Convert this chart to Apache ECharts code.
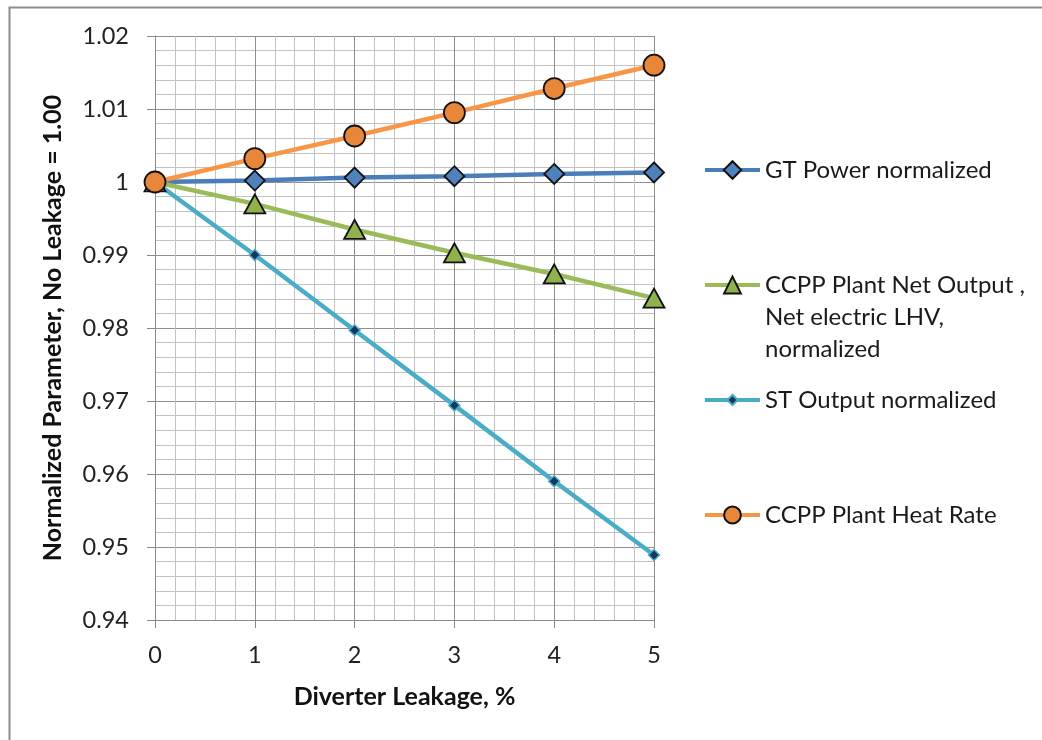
<!DOCTYPE html>
<html>
<head>
<meta charset="utf-8">
<title>Diverter Leakage Effects</title>
<script src="https://cdn.jsdelivr.net/npm/echarts@6/dist/echarts.min.js"></script>
<style>
  html, body { margin: 0; padding: 0; background: #ffffff; }
  #chart { width: 1042px; height: 740px; }
</style>
</head>
<body>
<div id="chart"></div>
<script>
// Diverter leakage, %
const leakage = [0, 1, 2, 3, 4, 5];

// Normalized parameters (no leakage = 1.00)
const gtPower = [1.0000, 1.0002, 1.0006, 1.0008, 1.0011, 1.0013];
const plantNetOutput = [1.0000, 0.9970, 0.9935, 0.9903, 0.9874, 0.9841];
const stOutput = [1.0000, 0.9900, 0.9797, 0.9694, 0.9590, 0.9489];
const plantHeatRate = [1.0000, 1.0032, 1.0063, 1.0095, 1.0128, 1.0160];

const seriesNames = [
  'GT Power normalized',
  'CCPP Plant Net Output , Net electric LHV, normalized',
  'ST Output normalized',
  'CCPP Plant Heat Rate'
];

const FONT = 'Lato, "Liberation Sans", sans-serif';

const pairs = vals => leakage.map((x, i) => [x, vals[i]]);

const chart = echarts.init(document.getElementById('chart'), null, { renderer: 'canvas' });

const LEGEND_LH = 32;
const legendText = { fontFamily: FONT, fontSize: 24, color: '#1a1a1a', lineHeight: LEGEND_LH };

const option = {
  backgroundColor: '#ffffff',
  animation: false,
  graphic: [{
    type: 'rect',
    left: 7, top: 5,
    shape: { width: 1200, height: 900 },
    style: { fill: 'none', stroke: '#8c8c8c', lineWidth: 2 },
    silent: true
  }],
  grid: { left: 155, top: 36, width: 499, height: 584, containLabel: false },
  xAxis: {
    type: 'value',
    min: 0, max: 5, interval: 1,
    name: 'Diverter Leakage, %',
    nameLocation: 'middle',
    nameGap: 64,
    nameTextStyle: { fontFamily: FONT, fontSize: 25, fontWeight: 'bold', color: '#111' },
    axisLine: { show: true, onZero: false, lineStyle: { color: '#8a8a8a', width: 1 } },
    axisTick: { show: true, length: 8, lineStyle: { color: '#8a8a8a' } },
    axisLabel: { fontFamily: FONT, fontSize: 23.5, color: '#222', margin: 23 },
    splitLine: { show: true, lineStyle: { color: '#8f8f8f', width: 1 } },
    minorTick: { show: false, splitNumber: 5 },
    minorSplitLine: { show: true, lineStyle: { color: '#c2c2c2', width: 1 } }
  },
  yAxis: {
    type: 'value',
    min: 0.94, max: 1.02, interval: 0.01,
    name: 'Normalized Parameter, No Leakage = 1.00',
    nameLocation: 'middle',
    nameGap: 90,
    nameRotate: 90,
    nameTextStyle: { fontFamily: FONT, fontSize: 25, fontWeight: 'bold', color: '#111' },
    axisLine: { show: true, lineStyle: { color: '#8a8a8a', width: 1 } },
    axisTick: { show: true, length: 8, lineStyle: { color: '#8a8a8a' } },
    axisLabel: {
      fontFamily: FONT, fontSize: 23.5, color: '#222', margin: 26,
      formatter: v => String(Number(v.toFixed(2)))
    },
    splitLine: { show: true, lineStyle: { color: '#8f8f8f', width: 1 } },
    minorTick: { show: false, splitNumber: 5 },
    minorSplitLine: { show: true, lineStyle: { color: '#c2c2c2', width: 1 } }
  },
  // One legend block per series so each entry sits at its own height
  legend: [
    {
      data: [seriesNames[0]], orient: 'vertical', left: 703, top: 170 - LEGEND_LH / 2,
      padding: 0, itemWidth: 55, itemHeight: 22, itemGap: 0,
      textStyle: legendText, selectedMode: false, lineStyle: { width: 4 }
    },
    {
      // two blank lines ahead of the text put the icon level with the first line
      data: [seriesNames[1]], orient: 'vertical', left: 703, top: 285 - LEGEND_LH * 2.5,
      padding: 0, itemWidth: 55, itemHeight: 21, itemGap: 0,
      formatter: () => '\n\nCCPP Plant Net Output ,\nNet electric LHV,\nnormalized',
      textStyle: legendText, selectedMode: false, lineStyle: { width: 4 }
    },
    {
      data: [seriesNames[2]], orient: 'vertical', left: 703, top: 400 - LEGEND_LH / 2,
      padding: 0, itemWidth: 55, itemHeight: 13, itemGap: 0,
      textStyle: legendText, selectedMode: false, lineStyle: { width: 4 }
    },
    {
      data: [seriesNames[3]], orient: 'vertical', left: 703, top: 515 - LEGEND_LH / 2,
      padding: 0, itemWidth: 55, itemHeight: 21, itemGap: 0,
      textStyle: legendText, selectedMode: false, lineStyle: { width: 4 }
    }
  ],
  series: [
    {
      name: seriesNames[0], type: 'line', data: pairs(gtPower),
      symbol: 'diamond', symbolSize: [20, 20],
      lineStyle: { color: '#4a7ebb', width: 4.5 },
      itemStyle: { color: '#4f81bd', borderColor: '#111', borderWidth: 1.8 },
      emphasis: { disabled: true }, z: 2
    },
    {
      name: seriesNames[1], type: 'line', data: pairs(plantNetOutput),
      symbol: 'triangle', symbolSize: [21, 19],
      lineStyle: { color: '#9bbb59', width: 4.5 },
      itemStyle: { color: '#8fb24c', borderColor: '#111', borderWidth: 1.8 },
      emphasis: { disabled: true }, z: 2
    },
    {
      name: seriesNames[2], type: 'line', data: pairs(stOutput),
      symbol: 'diamond', symbolSize: [11, 11],
      lineStyle: { color: '#4bacc6', width: 4.5 },
      itemStyle: { color: '#17375e', borderColor: '#4bacc6', borderWidth: 1.5 },
      emphasis: { disabled: true }, z: 2
    },
    {
      name: seriesNames[3], type: 'line', data: pairs(plantHeatRate),
      symbol: 'circle', symbolSize: 21,
      lineStyle: { color: '#f79646', width: 4.5 },
      itemStyle: { color: '#e8873a', borderColor: '#111', borderWidth: 1.8 },
      emphasis: { disabled: true }, z: 3
    }
  ]
};

chart.setOption(option);
</script>
</body>
</html>
